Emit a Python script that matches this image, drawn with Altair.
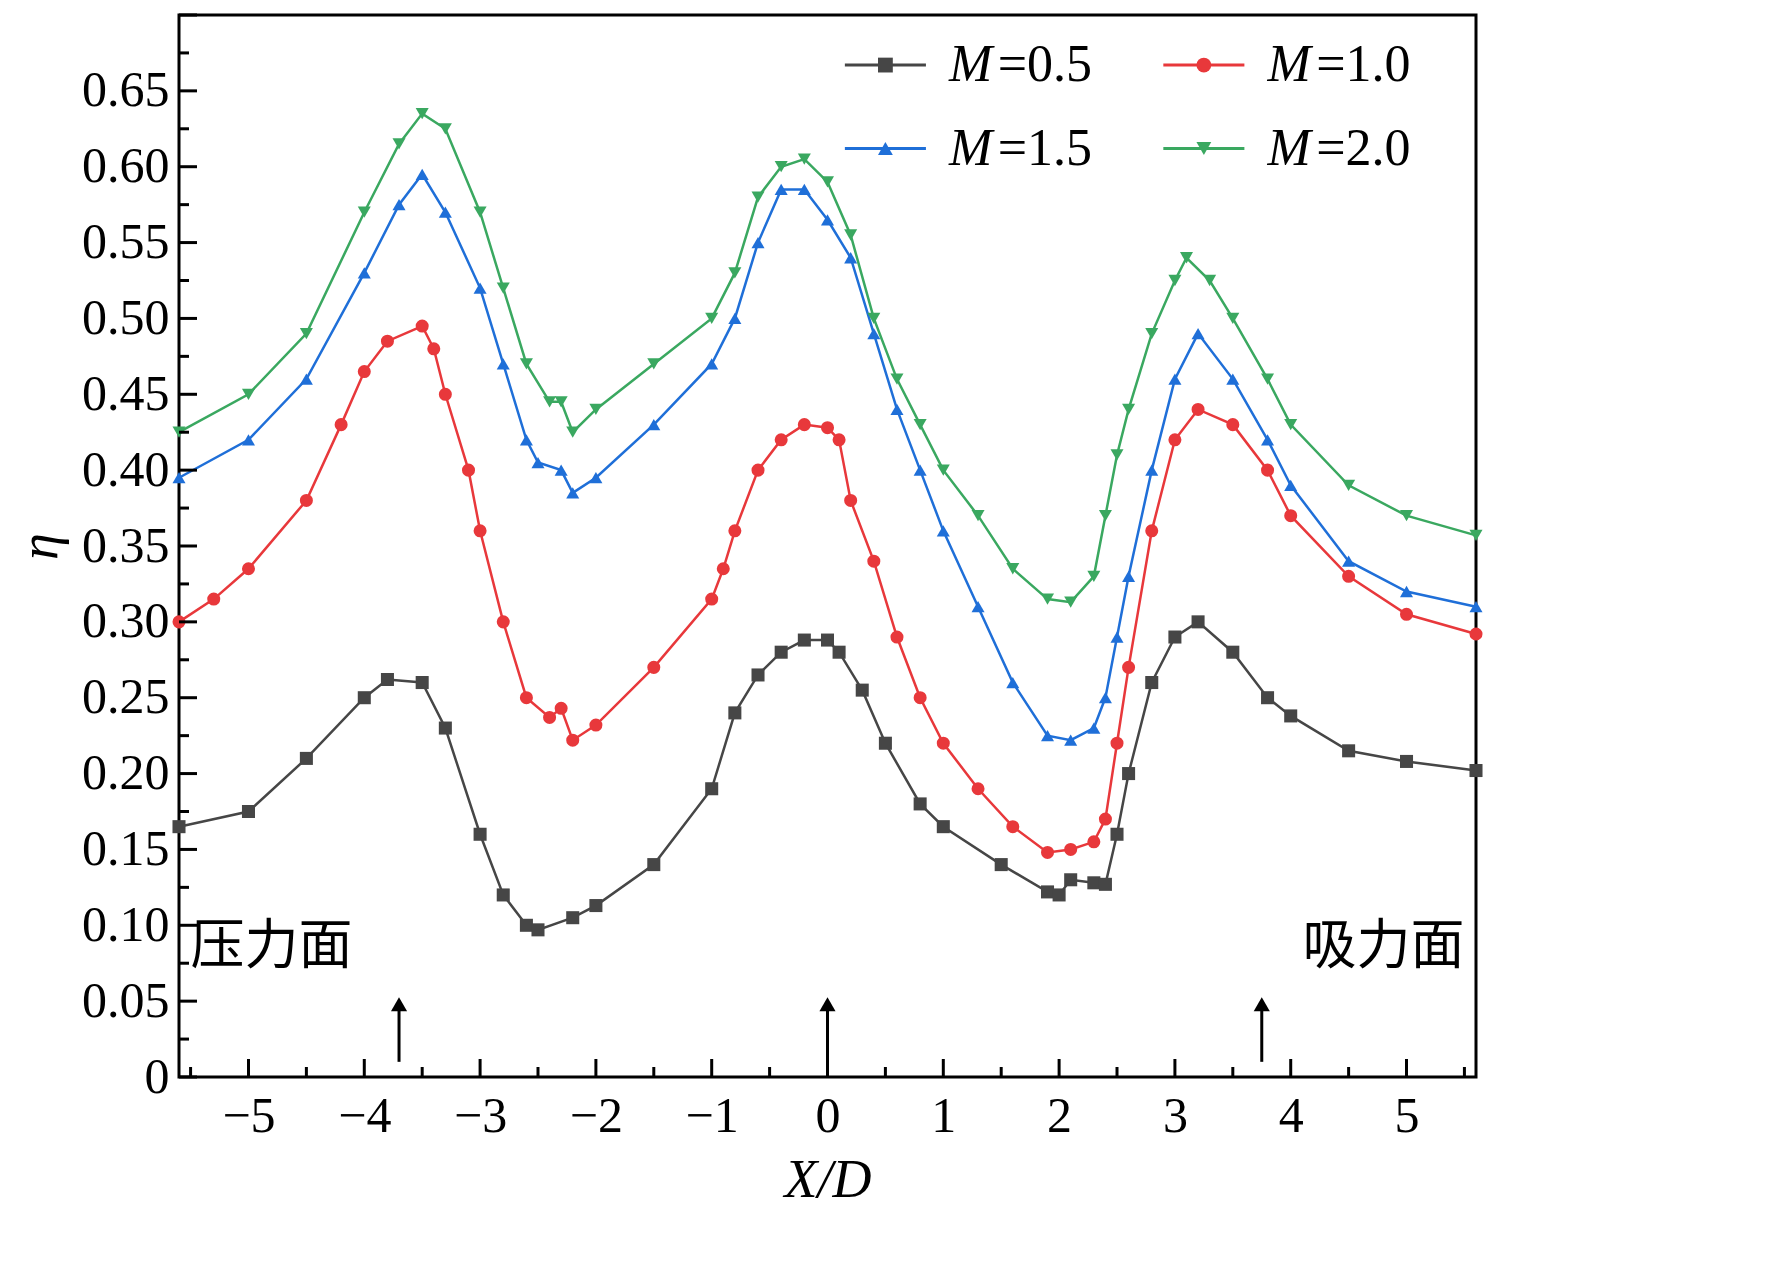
import altair as alt
import pandas as pd

# M=0.5
x05 = [-5.6, -5.0, -4.5, -4.0, -3.8, -3.5, -3.3, -3.0, -2.8, -2.6, -2.5, -2.2, -2.0, -1.5, -1.0, -0.8, -0.6, -0.4, -0.2, 0.0,
       0.1, 0.3, 0.5, 0.8, 1.0, 1.5, 1.9, 2.0, 2.1, 2.3, 2.4, 2.5, 2.6, 2.8, 3.0, 3.2, 3.5, 3.8, 4.0, 4.5, 5.0, 5.6]
y05 = [0.165, 0.175, 0.21, 0.25, 0.262, 0.26, 0.23, 0.16, 0.12, 0.10, 0.097, 0.105, 0.113, 0.14, 0.19, 0.24, 0.265, 0.28, 0.288, 0.288,
       0.28, 0.255, 0.22, 0.18, 0.165, 0.14, 0.122, 0.12, 0.13, 0.128, 0.127, 0.16, 0.20, 0.26, 0.29, 0.30, 0.28, 0.25, 0.238, 0.215, 0.208, 0.202]
# M=1.0
x10 = [-5.6, -5.3, -5.0, -4.5, -4.2, -4.0, -3.8, -3.5, -3.4, -3.3, -3.1, -3.0, -2.8, -2.6, -2.4, -2.3, -2.2, -2.0, -1.5, -1.0, -0.9,
       -0.8, -0.6, -0.4, -0.2, 0.0, 0.1, 0.2, 0.4, 0.6, 0.8, 1.0, 1.3, 1.6, 1.9, 2.1, 2.3, 2.4, 2.5, 2.6, 2.8, 3.0, 3.2, 3.5, 3.8, 4.0, 4.5, 5.0, 5.6]
y10 = [0.30, 0.315, 0.335, 0.38, 0.43, 0.465, 0.485, 0.495, 0.48, 0.45, 0.40, 0.36, 0.30, 0.25, 0.237, 0.243, 0.222, 0.232, 0.27, 0.315, 0.335,
       0.36, 0.40, 0.42, 0.43, 0.428, 0.42, 0.38, 0.34, 0.29, 0.25, 0.22, 0.19, 0.165, 0.148, 0.15, 0.155, 0.17, 0.22, 0.27, 0.36, 0.42, 0.44, 0.43, 0.40, 0.37, 0.33, 0.305, 0.292]
# M=1.5
x15 = [-5.6, -5.0, -4.5, -4.0, -3.7, -3.5, -3.3, -3.0, -2.8, -2.6, -2.5, -2.3, -2.2, -2.0, -1.5, -1.0, -0.8, -0.6, -0.4, -0.2, 0.0,
       0.2, 0.4, 0.6, 0.8, 1.0, 1.3, 1.6, 1.9, 2.1, 2.3, 2.4, 2.5, 2.6, 2.8, 3.0, 3.2, 3.5, 3.8, 4.0, 4.5, 5.0, 5.6]
y15 = [0.395, 0.42, 0.46, 0.53, 0.575, 0.595, 0.57, 0.52, 0.47, 0.42, 0.405, 0.40, 0.385, 0.395, 0.43, 0.47, 0.50, 0.55, 0.585, 0.585, 0.565,
       0.54, 0.49, 0.44, 0.40, 0.36, 0.31, 0.26, 0.225, 0.222, 0.23, 0.25, 0.29, 0.33, 0.40, 0.46, 0.49, 0.46, 0.42, 0.39, 0.34, 0.32, 0.31]
# M=2.0
x20 = [-5.6, -5.0, -4.5, -4.0, -3.7, -3.5, -3.3, -3.0, -2.8, -2.6, -2.4, -2.3, -2.2, -2.0, -1.5, -1.0, -0.8, -0.6, -0.4, -0.2, 0.0,
       0.2, 0.4, 0.6, 0.8, 1.0, 1.3, 1.6, 1.9, 2.1, 2.3, 2.4, 2.5, 2.6, 2.8, 3.0, 3.1, 3.3, 3.5, 3.8, 4.0, 4.5, 5.0, 5.6]
y20 = [0.425, 0.45, 0.49, 0.57, 0.615, 0.635, 0.625, 0.57, 0.52, 0.47, 0.445, 0.445, 0.425, 0.44, 0.47, 0.50, 0.53, 0.58, 0.60, 0.605, 0.59,
       0.555, 0.50, 0.46, 0.43, 0.40, 0.37, 0.335, 0.315, 0.313, 0.33, 0.37, 0.41, 0.44, 0.49, 0.525, 0.54, 0.525, 0.50, 0.46, 0.43, 0.39, 0.37, 0.357]

series = [
    ("M=0.5", x05, y05, "#464646", "square"),
    ("M=1.0", x10, y10, "#e8383b", "circle"),
    ("M=1.5", x15, y15, "#1f6fd8", "triangle-up"),
    ("M=2.0", x20, y20, "#3aa860", "triangle-down"),
]

# legend layout (data coords)
leg_x0 = [0.15, 2.9, 0.15, 2.9]
leg_y = [0.667, 0.667, 0.612, 0.612]
leg_val = ["=0.5", "=1.0", "=1.5", "=2.0"]

arrow_x = [-3.7, 0.0, 3.75]

FONT = "Liberation Serif"
xs = alt.Scale(domain=[-5.6, 5.6], nice=False, zero=False)
ys = alt.Scale(domain=[0, 0.70], nice=False)

layers = []
for i, (name, xv, yv, col, shp) in enumerate(series):
    df = pd.DataFrame({"x": xv, "y": yv})
    base = alt.Chart(df).encode(
        x=alt.X("x:Q", scale=xs),
        y=alt.Y("y:Q", scale=ys),
    )
    layers.append(base.mark_line(color=col, strokeWidth=2.5))
    layers.append(base.mark_point(shape=shp, color=col, filled=True, size=170, opacity=1))
    # legend entry
    ld = pd.DataFrame({"x": [leg_x0[i]], "x2": [leg_x0[i] + 0.7], "xm": [leg_x0[i] + 0.35],
                       "y": [leg_y[i]], "xt": [leg_x0[i] + 0.9], "xv": [leg_x0[i] + 1.32], "t": [leg_val[i]]})
    lb = alt.Chart(ld)
    layers.append(lb.mark_rule(color=col, strokeWidth=3).encode(x=alt.X("x:Q", scale=xs), x2="x2:Q", y=alt.Y("y:Q", scale=ys)))
    layers.append(lb.mark_point(shape=shp, color=col, filled=True, size=220, opacity=1).encode(
        x=alt.X("xm:Q", scale=xs), y=alt.Y("y:Q", scale=ys)))
    layers.append(lb.mark_text(text="M", font=FONT, fontStyle="italic", fontSize=52, align="left", baseline="middle").encode(
        x=alt.X("xt:Q", scale=xs), y=alt.Y("y:Q", scale=ys)))
    layers.append(lb.mark_text(font=FONT, fontSize=52, align="left", baseline="middle").encode(
        x=alt.X("xv:Q", scale=xs), y=alt.Y("y:Q", scale=ys), text="t:N"))

# inner ticks
tick_major = pd.DataFrame({"x": [-5, -4, -3, -2, -1, 0, 1, 2, 3, 4, 5]})
tick_minor = pd.DataFrame({"x": [-5.5, -4.5, -3.5, -2.5, -1.5, -0.5, 0.5, 1.5, 2.5, 3.5, 4.5, 5.5]})
ytick_major = pd.DataFrame({"y": [i * 0.05 for i in range(15)]})
ytick_minor = pd.DataFrame({"y": [i * 0.05 + 0.025 for i in range(14)]})
layers.append(alt.Chart(tick_major).mark_rule(color="black", strokeWidth=3).encode(
    x=alt.X("x:Q", scale=xs), y=alt.value(1062), y2=alt.value(1044)))
layers.append(alt.Chart(tick_minor).mark_rule(color="black", strokeWidth=3).encode(
    x=alt.X("x:Q", scale=xs), y=alt.value(1062), y2=alt.value(1052)))
layers.append(alt.Chart(ytick_major).mark_rule(color="black", strokeWidth=3).encode(
    y=alt.Y("y:Q", scale=ys), x=alt.value(0), x2=alt.value(18)))
layers.append(alt.Chart(ytick_minor).mark_rule(color="black", strokeWidth=3).encode(
    y=alt.Y("y:Q", scale=ys), x=alt.value(0), x2=alt.value(10)))

# arrows
ad = pd.DataFrame({"x": arrow_x, "y0": [0.01] * 3, "y1": [0.045] * 3, "yh": [0.048] * 3})
layers.append(alt.Chart(ad).mark_rule(color="black", strokeWidth=3).encode(
    x=alt.X("x:Q", scale=xs), y=alt.Y("y0:Q", scale=ys), y2="y1:Q"))
layers.append(alt.Chart(ad).mark_point(shape="triangle-up", color="black", filled=True, size=260, opacity=1).encode(
    x=alt.X("x:Q", scale=xs), y=alt.Y("yh:Q", scale=ys)))

# surface labels
sd = pd.DataFrame({"x": [-5.5, 5.5], "y": [0.085, 0.085], "t": ["压力面", "吸力面"]})
layers.append(alt.Chart(sd.iloc[[0]]).mark_text(font="Noto Sans CJK SC", fontSize=54, align="left", baseline="middle").encode(
    x=alt.X("x:Q", scale=xs), y=alt.Y("y:Q", scale=ys), text="t:N"))
layers.append(alt.Chart(sd.iloc[[1]]).mark_text(font="Noto Sans CJK SC", fontSize=54, align="right", baseline="middle").encode(
    x=alt.X("x:Q", scale=xs), y=alt.Y("y:Q", scale=ys), text="t:N"))

# axes carrier
axd = pd.DataFrame({"x": [-5.6], "y": [0.0]})
axes = alt.Chart(axd).mark_point(opacity=0).encode(
    x=alt.X("x:Q", scale=xs, title="X/D", axis=alt.Axis(
        values=[-5, -4, -3, -2, -1, 0, 1, 2, 3, 4, 5], ticks=False, grid=False, domain=False,
        labelExpr="replace(format(datum.value, 'd'), '-', '−')", labelPadding=14,
        titleFontStyle="italic", titlePadding=12)),
    y=alt.Y("y:Q", scale=ys, title="η", axis=alt.Axis(
        values=[i * 0.05 for i in range(15)], ticks=False, grid=False, domain=False,
        labelExpr="datum.value == 0 ? '0' : format(datum.value, '.2f')", labelPadding=10,
        titleFontStyle="italic", titlePadding=14)),
)

chart = alt.layer(axes, *layers).properties(
    width=1297, height=1062, background="white"
).configure_view(
    stroke="black", strokeWidth=3
).configure_axis(
    labelFont=FONT, titleFont=FONT, labelFontSize=50, titleFontSize=54,
    labelColor="black", titleColor="black", titleFontWeight="normal"
)

chart.save("out.html", embed_options={"renderer": "svg", "actions": False})
